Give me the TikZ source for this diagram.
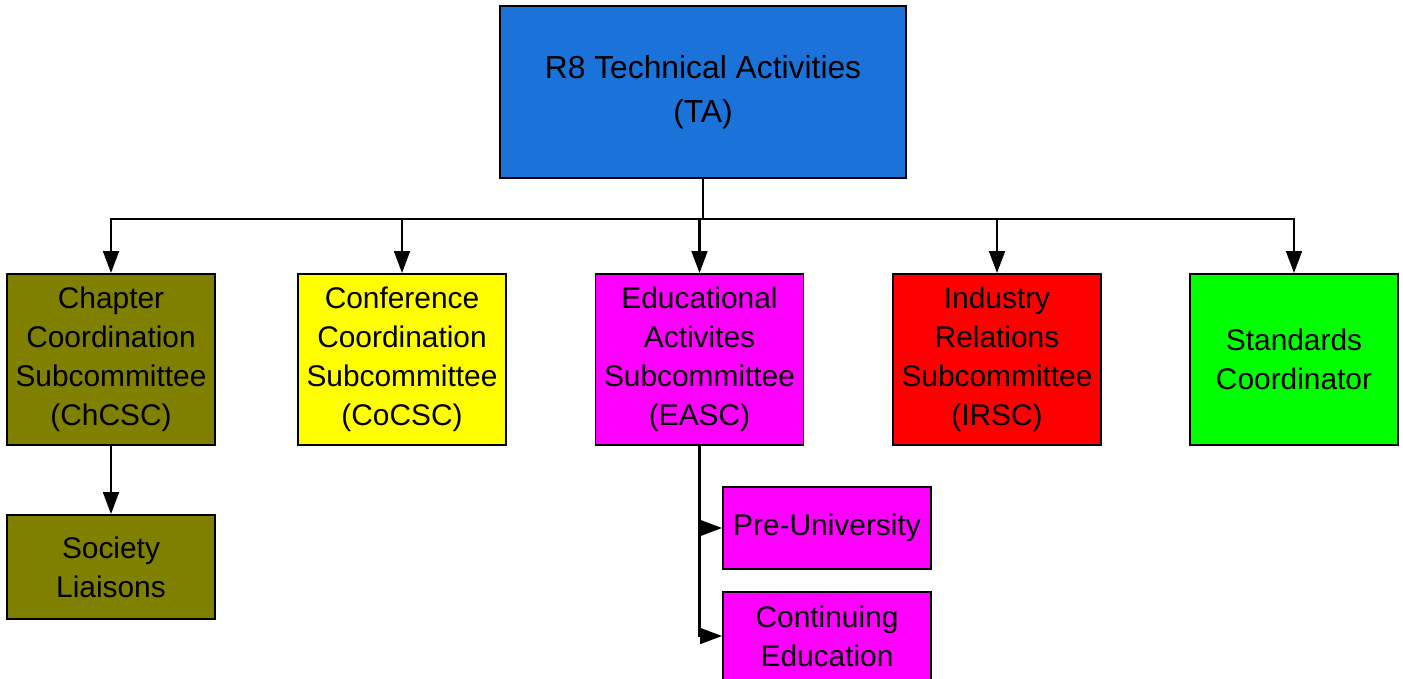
\documentclass[tikz,border=0pt]{standalone}
\usepackage{fontspec}
\setmainfont{Liberation Sans}
\usetikzlibrary{arrows.meta}
\definecolor{taBlue}{RGB}{27,114,216}
\definecolor{chOlive}{RGB}{128,128,0}
\definecolor{coYellow}{RGB}{255,255,0}
\definecolor{eaMagenta}{RGB}{255,0,255}
\definecolor{irRed}{RGB}{255,0,0}
\definecolor{stGreen}{RGB}{0,255,0}
\begin{document}
\begin{tikzpicture}[
    box/.style={draw, line width=1.1pt, minimum width=4.16cm, align=center, inner sep=0pt,
        font=\fontsize{17}{22.1}\selectfont},
    link/.style={line width=1.3pt, -{Triangle[length=12.5pt,width=9pt]}}]
    \useasboundingbox (0,0) rectangle (28.06,13.56);

    % Top box
    \node[box, fill=taBlue, minimum width=8.12cm, minimum height=3.44cm,
        font=\fontsize{18.1}{24.9}\selectfont] (ta) at (14.06,11.72) {R8 Technical Activities\\(TA)};

    % Subcommittees
    \node[box, fill=chOlive, minimum height=3.42cm] (chcsc) at (2.22,6.37) {Chapter\\Coordination\\Subcommittee\\(ChCSC)};
    \node[box, fill=coYellow, minimum height=3.42cm] (cocsc) at (8.04,6.37) {Conference\\Coordination\\Subcommittee\\(CoCSC)};
    \node[box, fill=eaMagenta, minimum height=3.42cm] (easc) at (13.99,6.37) {Educational\\Activites\\Subcommittee\\(EASC)};
    \node[box, fill=irRed, minimum height=3.42cm] (irsc) at (19.94,6.37) {Industry\\Relations\\Subcommittee\\(IRSC)};
    \node[box, fill=stGreen, minimum height=3.42cm] (stdc) at (25.88,6.37) {Standards\\Coordinator};

    % Lower level
    \node[box, fill=chOlive, minimum height=2.08cm] (soc) at (2.22,2.22) {Society\\Liaisons};
    \node[box, fill=eaMagenta, minimum height=1.64cm] (preuni) at (16.54,3.0) {Pre-University};
    \node[box, fill=eaMagenta, minimum height=1.76cm] (contedu) at (16.54,0.84) {Continuing\\Education};

    % Connectors
    \coordinate (bus) at (14.06,9.18);
    \draw[line width=1.3pt] (ta.south) -- (bus);
    \foreach \n in {chcsc,cocsc,easc,irsc,stdc}{
        \draw[link] (bus) -| (\n.north);
    }
    \draw[link] (chcsc.south) -- (soc.north);
    \draw[link] (easc.south) |- (preuni.west);
    \draw[link] (easc.south) |- (contedu.west);
\end{tikzpicture}
\end{document}
